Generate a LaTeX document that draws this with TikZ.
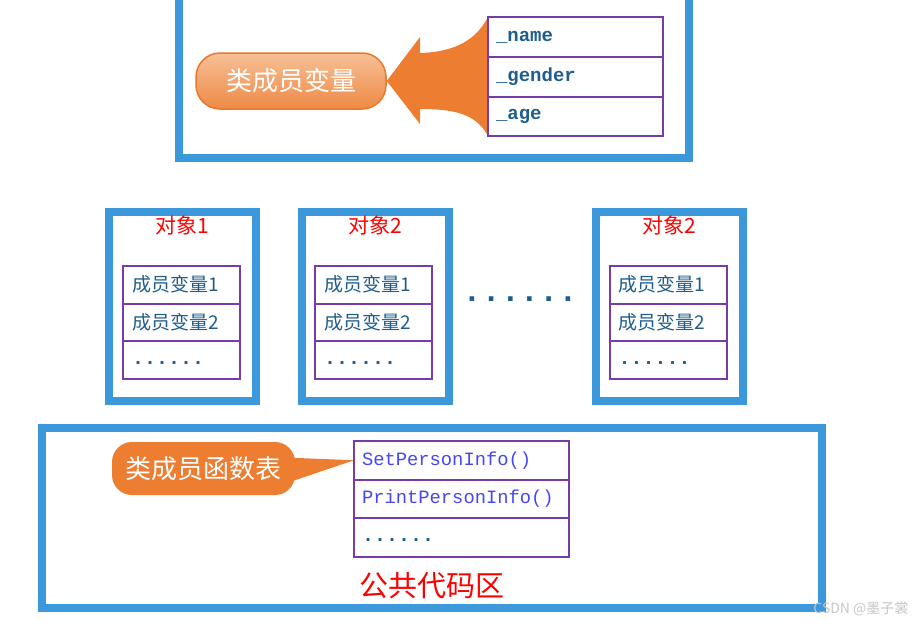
\documentclass[tikz,border=0pt]{standalone}
\usepackage{fontspec}
\setmainfont{Liberation Serif}
\newfontfamily\cjk{Noto Sans CJK SC}
\newfontfamily\codefont{Liberation Mono}
\usetikzlibrary{positioning,backgrounds,calc}

\definecolor{boxblue}{HTML}{3A98DB}
\definecolor{tblpurple}{HTML}{7A3BAA}
\definecolor{txtblue}{HTML}{1F5E8C}
\definecolor{fnblue}{HTML}{4646F2}
\definecolor{titlered}{HTML}{FF0000}
\definecolor{arroworange}{HTML}{ED7D31}
\definecolor{pilltop}{HTML}{F7BF96}
\definecolor{pillbot}{HTML}{EE8A45}
\definecolor{pillline}{HTML}{E8782A}

\begin{document}
\begin{tikzpicture}[x=1pt, y=-1pt,
    bluebox/.style={draw=boxblue, line width=8pt},
    objbox/.style={bluebox, minimum width=147pt, minimum height=189pt},
    objtitle/.style={font=\cjk\fontsize{21}{24}\selectfont, text=titlered},
    mrow/.style={draw=tblpurple, line width=2pt, outer sep=0pt,
                 minimum width=175pt, minimum height=40pt,
                 text width=159pt, inner xsep=8pt, align=left,
                 font=\codefont\bfseries\fontsize{19}{22}\selectfont, text=txtblue},
    orow/.style={draw=tblpurple, line width=2pt, outer sep=0pt,
                 minimum width=117pt, minimum height=37.5pt,
                 text width=99pt, inner xsep=9pt, align=left,
                 font=\cjk\fontsize{19}{22}\selectfont, text=txtblue},
    frow/.style={draw=tblpurple, line width=2pt, outer sep=0pt,
                 minimum width=215pt, minimum height=38.5pt,
                 text width=199pt, inner xsep=8pt, align=left,
                 font=\codefont\fontsize{18.8}{22}\selectfont, text=fnblue},
    pill/.style={rounded corners=24pt, draw=pillline, line width=1.5pt,
                 top color=pilltop, bottom color=pillbot,
                 text=white, font=\cjk\fontsize{26}{30}\selectfont},
    callout/.style={rounded corners=20pt, fill=arroworange,
                    text=white, font=\cjk\fontsize{26}{30}\selectfont},
    dotsrow/.style={font=\codefont\bfseries\fontsize{20}{22}\selectfont},
]
\useasboundingbox (0,0) rectangle (914,625);

% Class member variables
\draw[bluebox] (179,-20) rectangle (689,158);
\node[mrow] (m1) at (575.5,37) {\_name};
\node[mrow, below=0pt of m1] (m2) {\_gender};
\node[mrow, below=0pt of m2, minimum height=39pt] (m3) {\_age};
\node[pill, minimum width=190pt, minimum height=56pt] (vpill) at (291,81) {类成员变量};
\begin{scope}[on background layer]
\fill[arroworange] (vpill.east) -- (420,37) -- (420,53)
    .. controls (455,52) and (476,40) .. (m1.north west)
    -- (m3.south west)
    .. controls (476,114) and (455,109) .. (420,109)
    -- (420,124) -- cycle;
\end{scope}

% Objects
\foreach \i/\cx/\tx/\name in {1/182.5/181.5/对象1, 2/375.5/373.5/对象2, 3/669/668/对象2} {
    \node[objbox] (obj\i) at (\cx,306) {};
    \node[objtitle] (obj\i-t) at (\cx,225) {\name};
    \node[orow] (obj\i-r1) at (\tx,284.75) {成员变量1};
    \node[orow, below=0pt of obj\i-r1] (obj\i-r2) {成员变量2};
    \node[orow, below=0pt of obj\i-r2, dotsrow, text=txtblue] (obj\i-r3) {\raisebox{-5pt}[0pt][0pt]{......}};
}
\node[font=\codefont\bfseries\fontsize{32}{34}\selectfont, text=txtblue] (gap) at (520,299) {......};

% Shared code area
\node[bluebox, minimum width=780pt, minimum height=180pt] (code) at (432,518) {};
\node[frow] (f1) at (461.5,460.25) {SetPersonInfo()};
\node[frow, below=0pt of f1] (f2) {PrintPersonInfo()};
\node[frow, below=0pt of f2, dotsrow, text=txtblue] (f3) {\raisebox{-4pt}[0pt][0pt]{......}};
\node[callout, minimum width=183pt, minimum height=53pt] (fcall) at (203.5,468.5) {类成员函数表};
\begin{scope}[on background layer]
\fill[arroworange] ([xshift=-10pt,yshift=11pt]fcall.east) -- (f1.west)
    -- ([xshift=-10pt,yshift=-15pt]fcall.east) -- cycle;
\end{scope}
\node[font=\cjk\fontsize{29}{32}\selectfont, text=titlered] (codelbl) at (432,586) {公共代码区};

% Watermark
\node[anchor=east, font=\cjk\fontsize{14}{16}\selectfont, text=gray!45] (mark) at (912,609) {CSDN @墨子裳};

\end{tikzpicture}
\end{document}
